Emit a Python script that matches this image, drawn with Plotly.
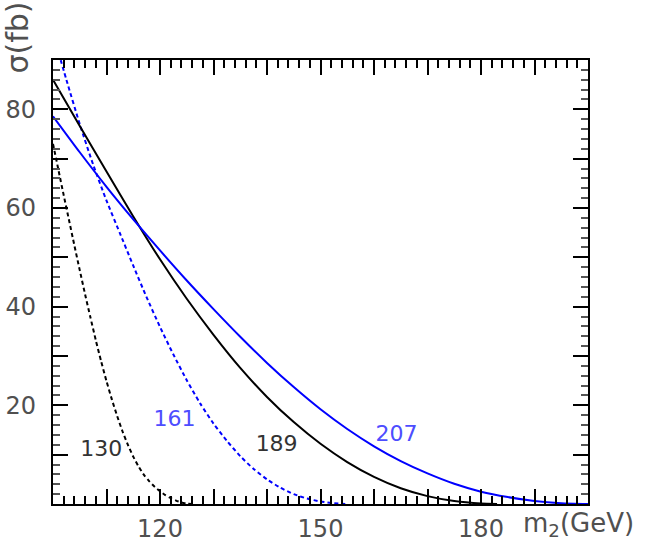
import plotly.graph_objects as go

# --- data ---
x_130 = [100, 101, 102, 103, 104, 105, 106, 107, 108, 109, 110, 111, 112, 113,
         114, 115, 116, 117, 118, 119, 120, 121, 122, 123, 124, 125, 126]
y_130 = [73.0, 67.8, 62.6, 57.5, 52.4, 47.4, 42.5, 37.8, 33.2, 28.9, 24.9, 21.2,
         17.8, 14.7, 12.0, 9.6, 7.6, 5.9, 4.6, 3.5, 2.6, 1.8, 1.2, 0.7, 0.3, 0.05, 0]

x_161 = [100, 102.5, 105, 107.5, 110, 112.5, 115, 117.5, 120, 122.5, 125, 127.5,
         130, 132.5, 135, 137.5, 140, 142.5, 145, 147.5, 150, 152.5, 155]
y_161 = [95.5, 86.0, 77.0, 68.8, 61.5, 54.9, 48.3, 41.9, 35.9, 30.3, 25.1, 20.4,
         16.3, 12.8, 9.7, 7.1, 5.0, 3.3, 2.0, 1.1, 0.5, 0.15, 0]

x_189 = [100, 105, 110, 115, 120, 125, 130, 135, 140, 145, 150, 155, 160, 165,
         170, 175, 180, 183]
y_189 = [86.0, 76.6, 67.4, 58.3, 49.6, 41.6, 34.3, 27.6, 21.7, 16.6, 12.2, 8.5,
         5.5, 3.2, 1.6, 0.6, 0.1, 0]

x_207 = [100, 105, 110, 115, 120, 125, 130, 135, 140, 145, 150, 155, 160, 165,
         170, 175, 180, 185, 190, 195, 200]
y_207 = [78.6, 71.3, 64.3, 57.7, 51.4, 45.3, 39.5, 33.9, 28.6, 23.7, 19.2, 15.2,
         11.7, 8.7, 6.2, 4.1, 2.5, 1.4, 0.6, 0.15, 0]

curve_labels = ["130", "161", "189", "207"]
label_x = [109.0, 122.7, 141.8, 164.2]
label_y = [10.8, 17.0, 11.8, 13.8]

x_major = [100, 110, 120, 130, 140, 150, 160, 170, 180, 190, 200]
x_labelled = [120, 150, 180]
y_major = [0, 10, 20, 30, 40, 50, 60, 70, 80, 90]
y_labelled = [20, 40, 60, 80]

BLUE = "#0000ff"
BLACK = "#000000"
FONT = "DejaVu Sans"
GRAY = "#505050"

fig = go.Figure()
series = [
    (x_130, y_130, BLACK, "4px,3px"),
    (x_161, y_161, BLUE, "4px,3px"),
    (x_189, y_189, BLACK, "solid"),
    (x_207, y_207, BLUE, "solid"),
]
for xs, ys, col, dash in series:
    fig.add_trace(go.Scatter(
        x=xs, y=ys, mode="lines",
        line=dict(color=col, width=2, dash=dash, shape="spline", smoothing=0.6),
        showlegend=False, hoverinfo="skip",
    ))

label_colors = ["#333333", "#4d4dff", "#333333", "#4d4dff"]
fig.add_trace(go.Scatter(
    x=label_x, y=label_y, text=curve_labels, mode="text",
    textposition="middle center",
    textfont=dict(family=FONT, size=22, color=label_colors),
    xaxis="x2", yaxis="y2", showlegend=False, hoverinfo="skip",
))

fig.add_annotation(xref="paper", yref="paper", x=0.874, y=-0.046,
                   text="m<sub>2</sub>(GeV)", showarrow=False,
                   xanchor="left", yanchor="middle",
                   font=dict(family=FONT, size=26, color=GRAY))
fig.add_annotation(xref="paper", yref="paper", x=-0.066, y=1.05,
                   text="σ(fb)", showarrow=False, textangle=-90,
                   xanchor="center", yanchor="middle",
                   font=dict(family=FONT, size=30, color=GRAY))

frame = dict(
    showline=True, linecolor=BLACK, linewidth=2, mirror="allticks",
    ticks="inside", tickcolor=BLACK, tickwidth=1.5, ticklen=15,
    showgrid=False, zeroline=False, tickmode="array",
    showticklabels=False, automargin=False,
)
labels = dict(
    showline=False, ticks="", showgrid=False, zeroline=False,
    tickmode="array", automargin=False,
    tickfont=dict(family=FONT, size=24, color=GRAY),
)

fig.update_layout(
    xaxis=dict(range=[100, 200], tickvals=x_major,
               minor=dict(ticks="inside", dtick=2, tick0=100, ticklen=8,
                          tickcolor=BLACK, tickwidth=1.5, showgrid=False),
               **frame),
    yaxis=dict(range=[0, 90], tickvals=y_major,
               minor=dict(ticks="inside", dtick=2, tick0=0, ticklen=7,
                          tickcolor="#555555", tickwidth=1.5, showgrid=False),
               **frame),
    xaxis2=dict(overlaying="x", matches="x", anchor="y2", side="bottom",
                tickvals=x_labelled, ticklabelstandoff=8, **labels),
    yaxis2=dict(overlaying="y", matches="y", anchor="x2", side="left",
                tickvals=y_labelled, ticklabelstandoff=16, **labels),
    width=647, height=545,
    margin=dict(l=53, r=59, t=60, b=41, pad=0),
    paper_bgcolor="white", plot_bgcolor="white",
)

fig.write_html("out.html", config={"displayModeBar": False},
               post_script="document.body.style.margin='0px';")
